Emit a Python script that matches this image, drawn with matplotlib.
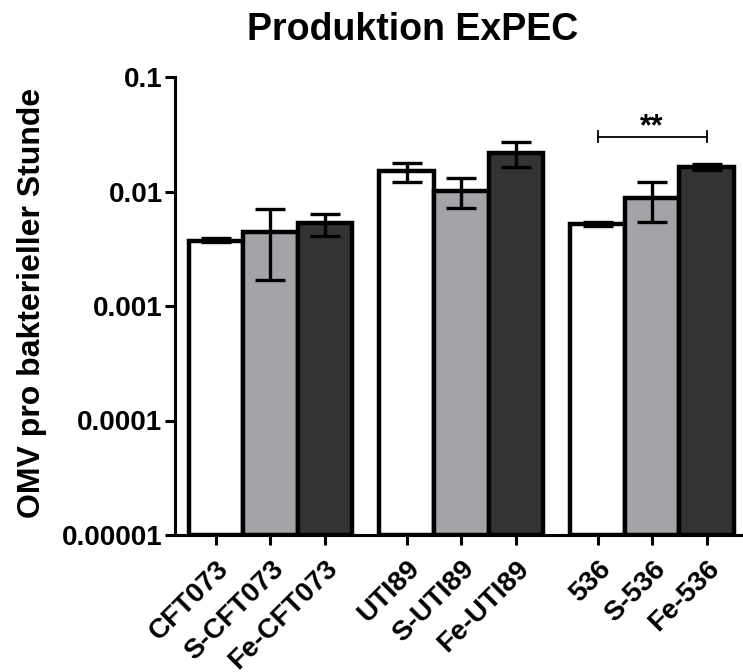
import matplotlib
matplotlib.use("Agg")
import matplotlib.pyplot as plt
import numpy as np

plt.rcParams['font.family'] = ['Liberation Sans', 'DejaVu Sans']
plt.rcParams['font.weight'] = 'bold'

# OMV production per bacterial hour for each strain / condition
labels = ['CFT073', 'S-CFT073', 'Fe-CFT073',
          'UTI89', 'S-UTI89', 'Fe-UTI89',
          '536', 'S-536', 'Fe-536']
means = [0.0037, 0.0044, 0.0053,
         0.0150, 0.0102, 0.0215,
         0.0052, 0.0087, 0.0165]
err_low = [0.0001, 0.0027, 0.0012,
           0.0030, 0.0030, 0.0050,
           0.0002, 0.0033, 0.0010]
err_high = [0.0002, 0.0027, 0.0010,
            0.0026, 0.0028, 0.0053,
            0.0002, 0.0033, 0.0010]
colors = ['white', '#a4a4a8', '#333333'] * 3

x = np.array([0, 1, 2, 3.5, 4.5, 5.5, 7, 8, 9])
bottom = 1e-5

fig = plt.figure(figsize=(7.43, 6.72), dpi=100)
ax = fig.add_axes([175/743, (672-535)/672, (741-175)/743, (535-77)/672])

heights = [m - bottom for m in means]
ax.bar(x, heights, bottom=bottom, width=1.0, color=colors,
       edgecolor='black', linewidth=3.2, zorder=2)
ax.errorbar(x, means, yerr=[err_low, err_high], fmt='none', ecolor='black',
            elinewidth=2.4, capsize=11, capthick=2.4, zorder=3)

ax.set_yscale('log')
ax.set_ylim(1e-5, 0.1)
ax.set_xlim(-0.75, 9.63)
ax.set_yticks([1e-5, 1e-4, 1e-3, 1e-2, 1e-1])
ax.set_yticklabels(['0.00001', '0.0001', '0.001', '0.01', '0.1'])
ax.yaxis.set_minor_locator(matplotlib.ticker.NullLocator())
ax.set_xticks(x)
ax.set_xticklabels(labels, rotation=45, ha='right', va='top',
                   rotation_mode='anchor')

for side in ['top', 'right']:
    ax.spines[side].set_visible(False)
for side in ['left', 'bottom']:
    ax.spines[side].set_linewidth(2.2)
ax.tick_params(axis='both', width=2.2, length=7)
ax.tick_params(axis='y', pad=2, labelsize=20)
ax.tick_params(axis='x', pad=8, labelsize=20)

ax.set_ylabel('OMV pro bakterieller Stunde', fontsize=23, fontweight='bold',
              va='center')
ax.yaxis.set_label_coords(-0.252, 0.507)
ax.set_title('Produktion ExPEC', fontsize=27, fontweight='bold',
             pad=27, x=0.419)

# significance bracket between 536 and Fe-536
y_br = 0.0302
ax.plot([x[6], x[8]], [y_br, y_br], color='black', lw=1.3, clip_on=False)
for xi in (x[6], x[8]):
    ax.plot([xi, xi], [y_br * 0.895, y_br * 1.117], color='black', lw=1.3,
            clip_on=False)
ax.text((x[6] + x[8]) / 2, y_br * 1.02, '**', ha='center', va='baseline',
        fontsize=22)

fig.savefig('out.png', dpi=100)
